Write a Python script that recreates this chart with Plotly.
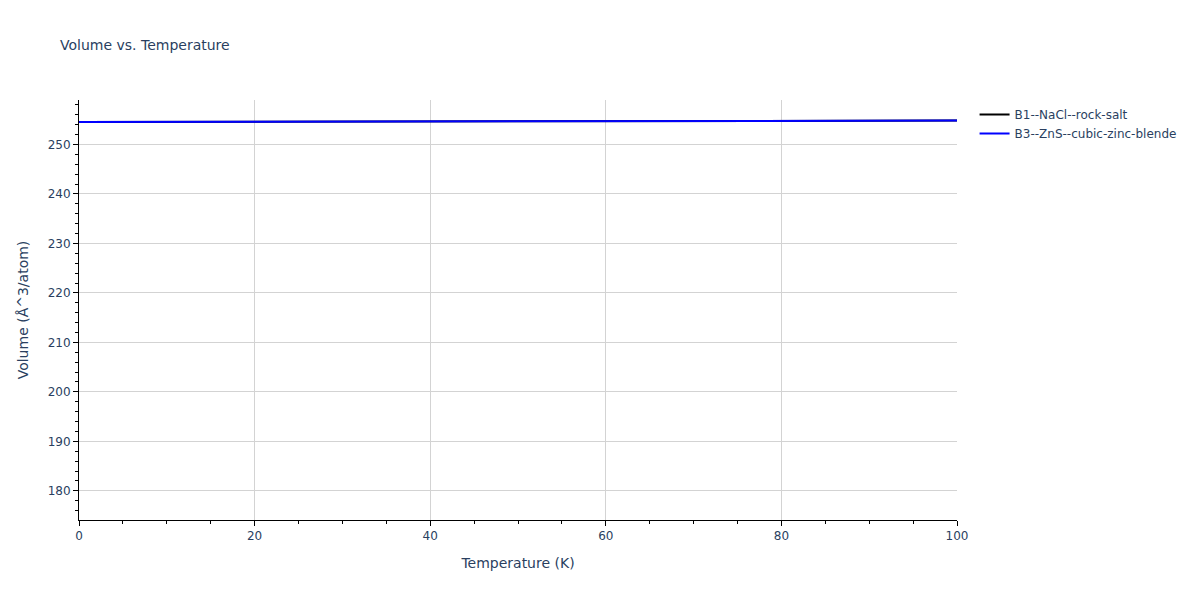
import plotly.graph_objects as go

temperature = [0, 10, 20, 30, 40, 50, 60, 70, 80, 90, 100]
vol_b1 = [254.55, 254.57, 254.59, 254.61, 254.63, 254.66, 254.69, 254.72, 254.76, 254.80, 254.84]
vol_b3 = [254.55, 254.57, 254.59, 254.61, 254.63, 254.66, 254.69, 254.72, 254.76, 254.80, 254.84]

fig = go.Figure()
fig.add_trace(go.Scatter(x=temperature, y=vol_b1, mode="lines",
                         name="B1--NaCl--rock-salt", line=dict(color="black")))
fig.add_trace(go.Scatter(x=temperature, y=vol_b3, mode="lines",
                         name="B3--ZnS--cubic-zinc-blende", line=dict(color="blue")))

fig.update_layout(
    template="plotly_white",
    width=1200, height=600,
    margin=dict(l=71, r=251, t=92, b=88),
    title=dict(text="Volume vs. Temperature", x=0.05 - 8 / 1200, y=1 - 37 / 600,
               yanchor="middle", font=dict(size=14)),
    font=dict(family="DejaVu Sans, Verdana, sans-serif"),
    xaxis=dict(title="Temperature (K)", range=[0, 100], showline=True, linecolor="black",
               ticks="outside", tickcolor="black", dtick=20, gridcolor="lightgray",
               minor=dict(ticks="outside", dtick=5, tickcolor="black", showgrid=False),
               zeroline=False),
    yaxis=dict(title="Volume (Å^3/atom)", range=[174.1, 259.0], showline=True, linecolor="black",
               ticks="outside", tickcolor="black", dtick=10, gridcolor="lightgray",
               minor=dict(ticks="outside", dtick=2, tickcolor="black", showgrid=False),
               zeroline=False),
)
fig.write_html("out.html")
